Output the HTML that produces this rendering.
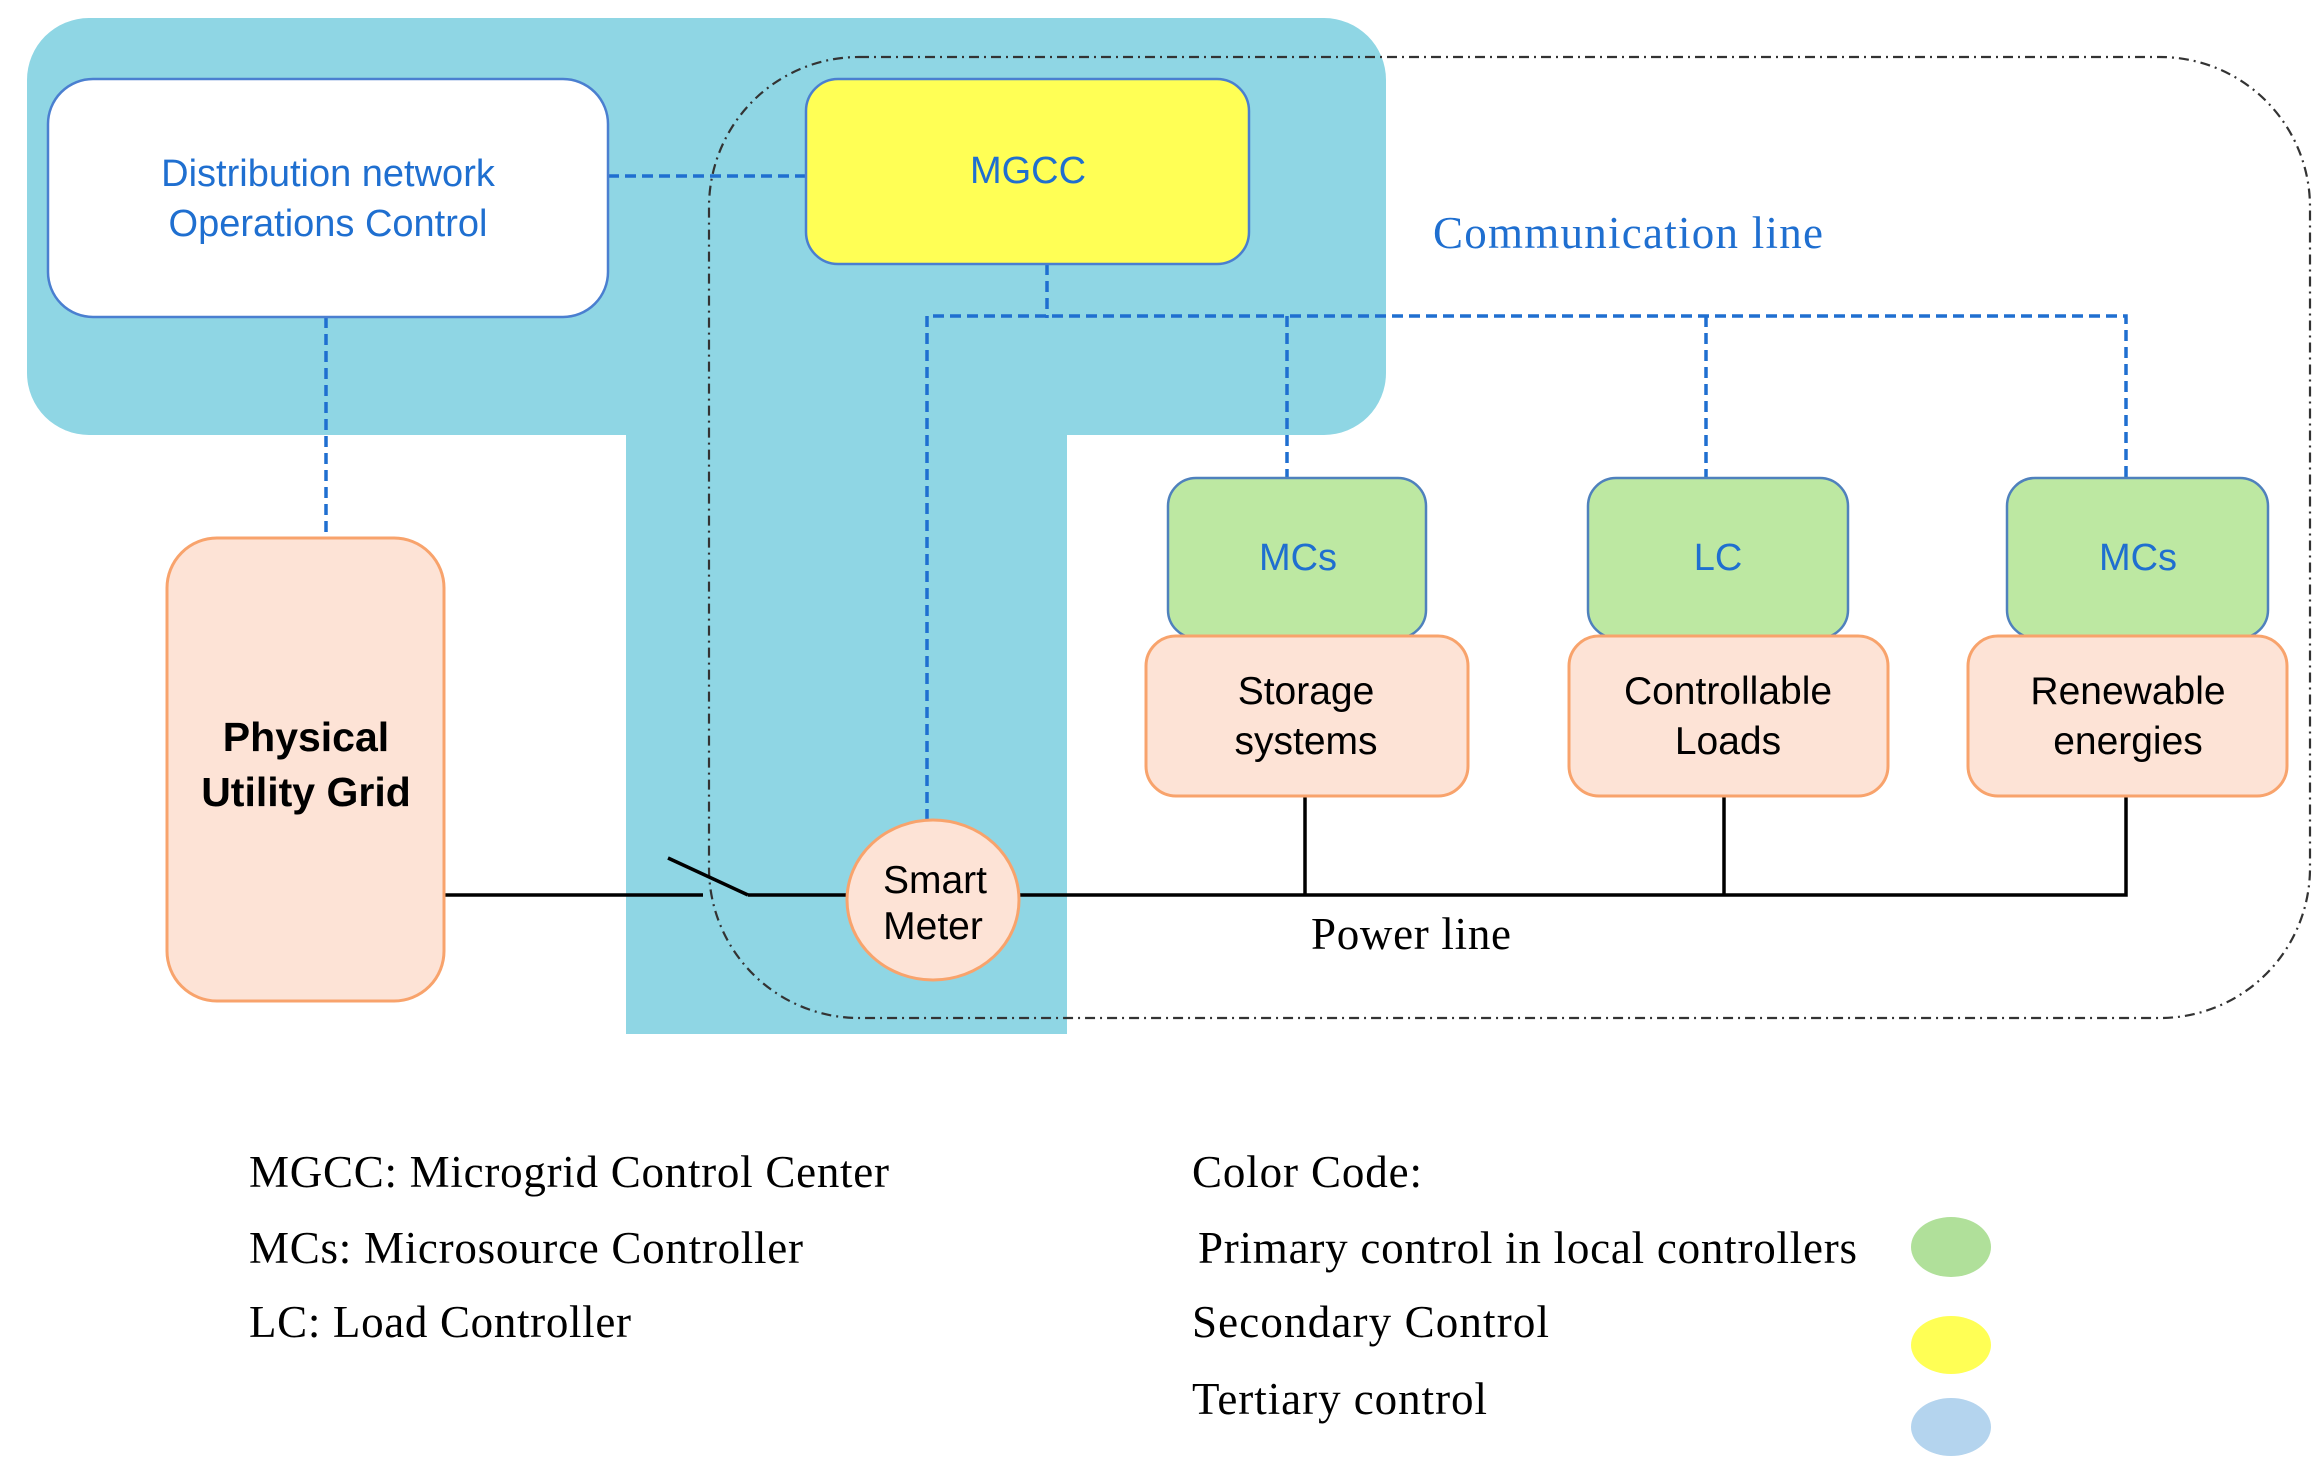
<!DOCTYPE html>
<html><head><meta charset="utf-8"><style>html,body{margin:0;padding:0;background:#fff}svg{display:block}</style></head><body>
<svg width="2324" height="1470" viewBox="0 0 2324 1470" xmlns="http://www.w3.org/2000/svg">
<rect x="27" y="18" width="1359" height="417" rx="62" fill="#8fd6e4"/>
<rect x="626" y="300" width="441" height="734" fill="#8fd6e4"/>
<rect x="709" y="57" width="1601" height="961" rx="150" fill="none" stroke="#333" stroke-width="2.2" stroke-dasharray="10,5,2,5"/>
<g stroke="#1f6fd0" stroke-width="3.5" stroke-dasharray="11,6" fill="none">
<line x1="608" y1="176" x2="806" y2="176"/>
<line x1="326" y1="317" x2="326" y2="538"/>
<line x1="1047" y1="264" x2="1047" y2="318"/>
<polyline points="927,820 927,316 2126,316 2126,478"/>
<line x1="1287" y1="316" x2="1287" y2="478"/>
<line x1="1706" y1="316" x2="1706" y2="478"/>
</g>
<g stroke="#000" stroke-width="3.5" fill="none">
<line x1="444" y1="895" x2="703" y2="895"/>
<line x1="668" y1="858" x2="748" y2="895"/>
<line x1="748" y1="895" x2="846" y2="895"/>
<polyline points="1019,895 2126,895 2126,796"/>
<line x1="1305" y1="796" x2="1305" y2="895"/>
<line x1="1724" y1="796" x2="1724" y2="895"/>
</g>
<rect x="48" y="79" width="560" height="238" rx="45" fill="#fff" stroke="#4a7fd0" stroke-width="2.5"/>
<rect x="806" y="79" width="443" height="185" rx="32" fill="#ffff55" stroke="#4a7fd0" stroke-width="2.5"/>
<rect x="167" y="538" width="277" height="463" rx="50" fill="#fde3d6" stroke="#f8a36c" stroke-width="3"/>
<g fill="#bde8a2" stroke="#4f81bd" stroke-width="2.5">
<rect x="1168" y="478" width="258" height="160" rx="28"/>
<rect x="1588" y="478" width="260" height="160" rx="28"/>
<rect x="2007" y="478" width="261" height="160" rx="28"/>
</g>
<g fill="#fde3d6" stroke="#f8a36c" stroke-width="3">
<rect x="1146" y="636" width="322" height="160" rx="30"/>
<rect x="1569" y="636" width="319" height="160" rx="30"/>
<rect x="1968" y="636" width="319" height="160" rx="30"/>
<ellipse cx="933" cy="900" rx="86" ry="80"/>
</g>
<g font-family="Liberation Sans, Arial, sans-serif" text-anchor="middle">
<g fill="#1f6fd0" font-size="38">
<text x="328" y="186">Distribution network</text>
<text x="328" y="236">Operations Control</text>
<text x="1028" y="183">MGCC</text>
<text x="1298" y="570">MCs</text>
<text x="1718" y="570">LC</text>
<text x="2138" y="570">MCs</text>
</g>
<g fill="#000" font-size="39">
<text x="1306" y="704">Storage</text>
<text x="1306" y="754">systems</text>
<text x="1728" y="704">Controllable</text>
<text x="1728" y="754">Loads</text>
<text x="2128" y="704">Renewable</text>
<text x="2128" y="754">energies</text>
<text x="935" y="893">Smart</text>
<text x="933" y="939">Meter</text>
<text x="306" y="751" font-weight="bold" font-size="41">Physical</text>
<text x="306" y="806" font-weight="bold" font-size="41">Utility Grid</text>
</g>
</g>
<g font-family="Liberation Serif, Times New Roman, serif" font-size="45">
<text x="1433" y="248" fill="#1f6fd0" textLength="390">Communication line</text>
<text x="1311" y="949" fill="#000" textLength="200">Power line</text>
<text x="249" y="1187" textLength="640">MGCC: Microgrid Control Center</text>
<text x="249" y="1263" textLength="554">MCs: Microsource Controller</text>
<text x="249" y="1337" textLength="382">LC: Load Controller</text>
<text x="1192" y="1187" textLength="230">Color Code:</text>
<text x="1198" y="1263" textLength="659">Primary control in local controllers</text>
<text x="1192" y="1337" textLength="357">Secondary Control</text>
<text x="1192" y="1414" textLength="295">Tertiary control</text>
</g>
<ellipse cx="1951" cy="1247" rx="40" ry="30" fill="#b0e09a"/>
<ellipse cx="1951" cy="1345" rx="40" ry="29" fill="#ffff55"/>
<ellipse cx="1951" cy="1427" rx="40" ry="29" fill="#b4d4ee"/>
</svg>
</body></html>
